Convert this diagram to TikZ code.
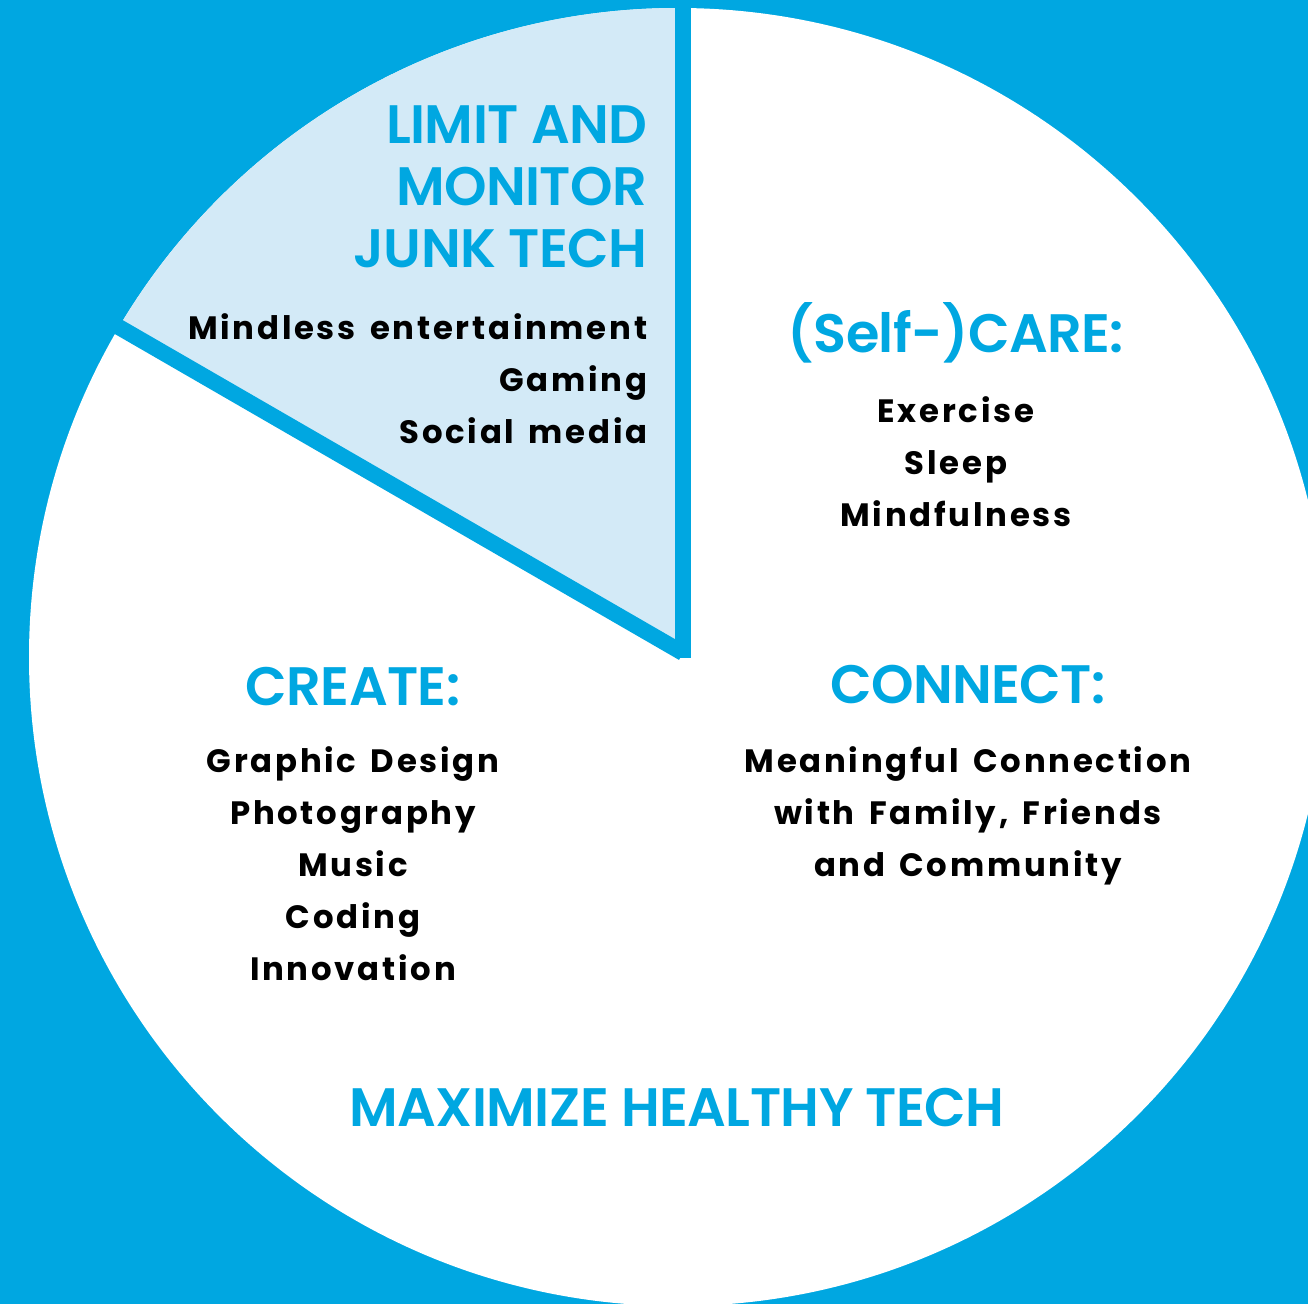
\documentclass[tikz,border=0pt]{standalone}
\usepackage{fontspec}
\setmainfont{Poppins}
\newfontfamily\headfont{Poppins SemiBold}[LetterSpace=-1]
\newfontfamily\itemfont{Poppins Bold}[LetterSpace=8.5, WordSpace=1.5]
\usetikzlibrary{positioning, calc}
\definecolor{pieblue}{RGB}{0,167,225}
\definecolor{pielight}{RGB}{211,234,247}

\begin{document}
\begin{tikzpicture}[x=0.1mm, y=-0.1mm,
    heading/.style={text=pieblue, inner sep=0pt,
      font=\headfont\fontsize{15.4}{17.64}\selectfont},
    item/.style={inner sep=0pt, font=\itemfont\fontsize{9.2}{14.8}\selectfont},
    divider/.style={draw=pieblue, line width=4.55pt}]
    \fill[pieblue] (0,0) rectangle (1308,1304);
    \useasboundingbox (0,0) rectangle (1308,1304);
    \coordinate (mid) at (678,657);
    \coordinate (apex) at (683,653);
    \coordinate (top) at (683,-200);
    \coordinate (rim) at ($(apex)+(-779,-450)$);
    % pie and the junk slice
    \fill[white] (mid) circle (649);
    \begin{scope}
      \clip (mid) circle (649);
      \fill[pielight] (apex) -- ++(0,-900) -- ++(-779,450) -- cycle;
    \end{scope}
    \draw[divider] (683,658) -- (top);
    \draw[divider] (apex) -- (rim);
    % texts
    \node[heading, align=right, anchor=north east] (junk) at (648,105) {LIMIT AND\\MONITOR\\JUNK TECH};
    \node[item, align=right] (junklist) [below left=12.5pt and 0pt of junk.south east] {Mindless entertainment\\Gaming\\Social media};
    \node[heading, anchor=base] (care) at (956,353) {(Self-)CARE:};
    \node[item, align=center] (carelist) [below=9pt of care] {Exercise\\Sleep\\Mindfulness};
    \node[heading, anchor=base] (create) at (353,706) {CREATE:};
    \node[item, align=center] (createlist) [below=11pt of create] {Graphic Design\\Photography\\Music\\Coding\\Innovation};
    \node[heading, anchor=base] (connect) at (968,704) {CONNECT:};
    \node[item, align=center] (connectlist) [below=11.6pt of connect] {Meaningful Connection\\with Family, Friends\\and Community};
    \node[heading, anchor=base] (healthy) at (677,1127) {MAXIMIZE HEALTHY TECH};
\end{tikzpicture}
\end{document}
